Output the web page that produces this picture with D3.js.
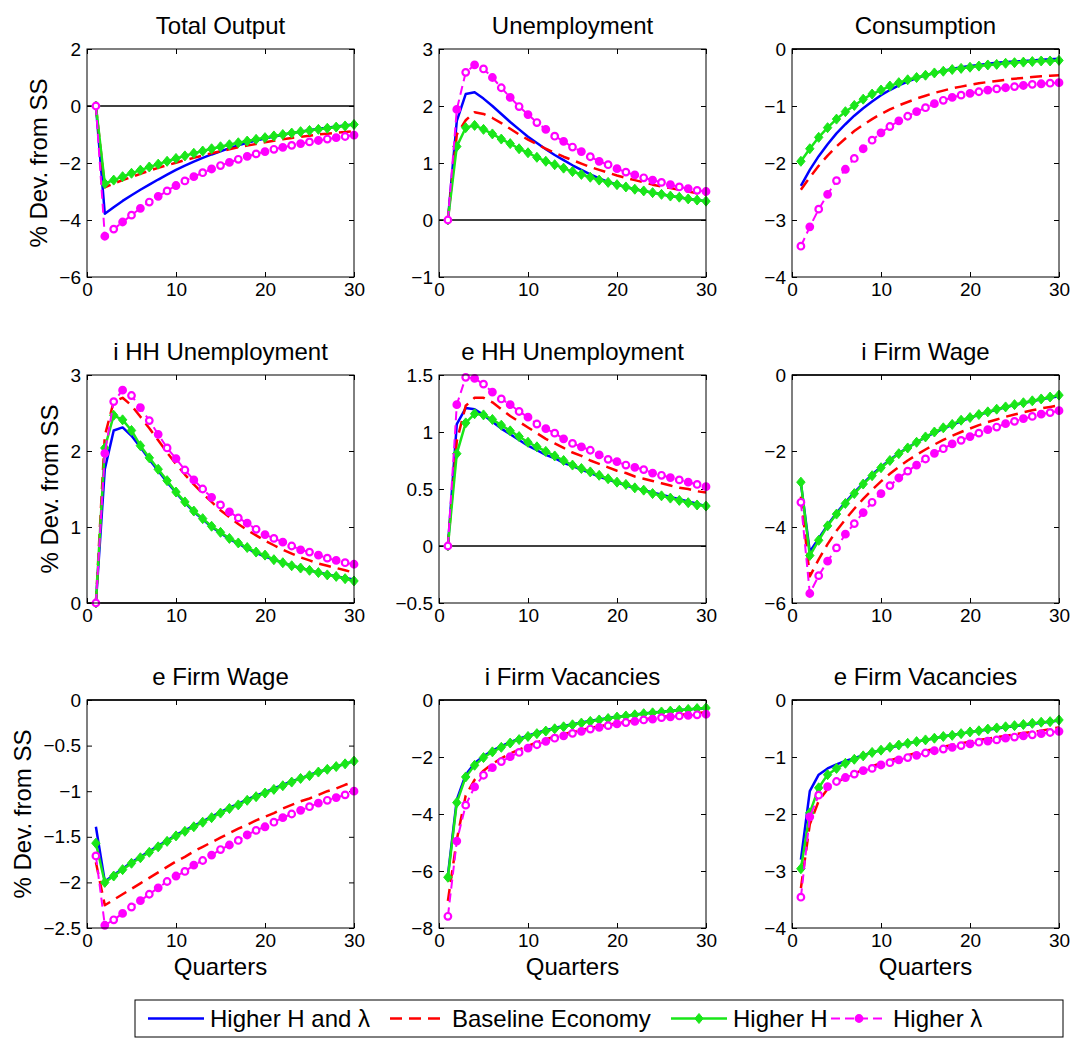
<!DOCTYPE html>
<html>
<head>
<meta charset="utf-8">
<style>
  body { margin: 0; background: #fff; }
  svg text { font-family: "Liberation Sans", Arial, Helvetica, sans-serif; fill: #000; }
</style>
</head>
<body>
<script src="https://d3js.org/d3.v7.min.js"></script>
<script>
var quarters = d3.range(1, 31);

var titles = ['Total Output', 'Unemployment', 'Consumption',
              'i HH Unemployment', 'e HH Unemployment', 'i Firm Wage',
              'e Firm Wage', 'i Firm Vacancies', 'e Firm Vacancies'];
var yDomains = [[-6, 2], [-1, 3], [-4, 0], [0, 3], [-0.5, 1.5], [-6, 0], [-2.5, 0], [-8, 0], [-4, 0]];
var yTicks = [[-6, -4, -2, 0, 2], [-1, 0, 1, 2, 3], [-4, -3, -2, -1, 0], [0, 1, 2, 3],
              [-0.5, 0, 0.5, 1, 1.5], [-6, -4, -2, 0], [-2.5, -2, -1.5, -1, -0.5, 0],
              [-8, -6, -4, -2, 0], [-4, -3, -2, -1, 0]];
var xTicks = [0, 10, 20, 30];
var seriesNames = ['Higher H and \u03bb', 'Baseline Economy', 'Higher H', 'Higher \u03bb'];

// Total Output
var outBoth = [0, -3.78, -3.55, -3.33, -3.13, -2.94, -2.76, -2.58, -2.41, -2.24, -2.09, -1.95, -1.82, -1.70, -1.59, -1.48, -1.38, -1.29, -1.21, -1.14, -1.07, -1.01, -0.95, -0.90, -0.85, -0.80, -0.76, -0.72, -0.68, -0.64];
var outBase = [0, -2.85, -2.72, -2.60, -2.49, -2.38, -2.27, -2.17, -2.08, -1.99, -1.90, -1.82, -1.74, -1.66, -1.59, -1.52, -1.45, -1.39, -1.33, -1.27, -1.22, -1.17, -1.12, -1.08, -1.04, -1.00, -0.97, -0.94, -0.91, -0.88];
var outH    = [0, -2.72, -2.60, -2.48, -2.36, -2.25, -2.14, -2.04, -1.94, -1.84, -1.75, -1.66, -1.58, -1.50, -1.43, -1.36, -1.29, -1.23, -1.17, -1.11, -1.05, -1.00, -0.95, -0.90, -0.86, -0.82, -0.78, -0.74, -0.70, -0.65];
var outLam  = [0, -4.57, -4.32, -4.07, -3.83, -3.59, -3.37, -3.17, -2.98, -2.79, -2.63, -2.48, -2.34, -2.21, -2.09, -1.98, -1.87, -1.77, -1.68, -1.60, -1.52, -1.45, -1.38, -1.32, -1.26, -1.21, -1.16, -1.11, -1.07, -1.02];
// Unemployment
var unBoth = [0, 1.74, 2.21, 2.24, 2.13, 2.00, 1.86, 1.72, 1.59, 1.46, 1.35, 1.24, 1.14, 1.05, 0.96, 0.88, 0.80, 0.73, 0.67, 0.62, 0.58, 0.54, 0.51, 0.48, 0.45, 0.42, 0.40, 0.37, 0.35, 0.33];
var unBase = [0, 1.50, 1.75, 1.89, 1.86, 1.79, 1.70, 1.60, 1.50, 1.41, 1.33, 1.25, 1.18, 1.11, 1.05, 0.99, 0.93, 0.88, 0.83, 0.78, 0.74, 0.70, 0.66, 0.62, 0.59, 0.56, 0.53, 0.50, 0.47, 0.44];
var unH    = [0, 1.29, 1.62, 1.66, 1.59, 1.51, 1.42, 1.34, 1.25, 1.18, 1.10, 1.03, 0.97, 0.91, 0.85, 0.80, 0.75, 0.70, 0.66, 0.62, 0.58, 0.54, 0.51, 0.48, 0.45, 0.42, 0.40, 0.37, 0.35, 0.33];
var unLam  = [0, 1.94, 2.59, 2.72, 2.65, 2.50, 2.32, 2.15, 1.99, 1.85, 1.71, 1.59, 1.47, 1.38, 1.28, 1.20, 1.11, 1.03, 0.97, 0.90, 0.84, 0.79, 0.74, 0.70, 0.66, 0.62, 0.58, 0.55, 0.52, 0.50];
// Consumption
var conBoth = [-2.40, -2.12, -1.88, -1.67, -1.48, -1.32, -1.17, -1.04, -0.92, -0.81, -0.72, -0.64, -0.57, -0.51, -0.46, -0.42, -0.38, -0.35, -0.32, -0.30, -0.28, -0.26, -0.24, -0.23, -0.22, -0.21, -0.20, -0.19, -0.18, -0.17];
var conBase = [-2.47, -2.25, -2.05, -1.87, -1.71, -1.57, -1.44, -1.33, -1.23, -1.14, -1.06, -0.99, -0.93, -0.87, -0.82, -0.77, -0.73, -0.69, -0.66, -0.63, -0.60, -0.58, -0.56, -0.54, -0.52, -0.51, -0.49, -0.48, -0.47, -0.46];
var conH    = [-1.97, -1.75, -1.55, -1.38, -1.23, -1.10, -0.99, -0.88, -0.79, -0.72, -0.65, -0.59, -0.54, -0.50, -0.46, -0.42, -0.39, -0.36, -0.34, -0.32, -0.30, -0.28, -0.27, -0.25, -0.24, -0.23, -0.22, -0.21, -0.21, -0.20];
var conLam  = [-3.46, -3.12, -2.81, -2.55, -2.31, -2.11, -1.92, -1.75, -1.60, -1.47, -1.36, -1.26, -1.18, -1.10, -1.03, -0.96, -0.90, -0.85, -0.81, -0.78, -0.75, -0.72, -0.70, -0.68, -0.66, -0.64, -0.62, -0.61, -0.60, -0.59];
// i HH Unemployment
var iuBoth = [0, 1.76, 2.27, 2.31, 2.20, 2.05, 1.89, 1.74, 1.59, 1.45, 1.32, 1.20, 1.10, 1.00, 0.92, 0.84, 0.78, 0.72, 0.66, 0.61, 0.57, 0.53, 0.49, 0.46, 0.43, 0.40, 0.38, 0.35, 0.33, 0.31];
var iuBase = [0, 2.20, 2.65, 2.70, 2.60, 2.45, 2.30, 2.14, 1.98, 1.83, 1.69, 1.56, 1.44, 1.33, 1.22, 1.13, 1.04, 0.96, 0.89, 0.82, 0.76, 0.70, 0.65, 0.60, 0.56, 0.52, 0.49, 0.46, 0.43, 0.40];
var iuH    = [0, 2.04, 2.47, 2.41, 2.27, 2.07, 1.91, 1.76, 1.61, 1.46, 1.33, 1.21, 1.11, 1.01, 0.93, 0.85, 0.79, 0.73, 0.67, 0.63, 0.57, 0.53, 0.49, 0.46, 0.43, 0.40, 0.37, 0.35, 0.32, 0.29];
var iuLam  = [0, 1.97, 2.65, 2.80, 2.73, 2.57, 2.40, 2.22, 2.04, 1.90, 1.75, 1.62, 1.50, 1.39, 1.29, 1.20, 1.12, 1.05, 0.97, 0.90, 0.85, 0.80, 0.75, 0.70, 0.67, 0.63, 0.59, 0.56, 0.53, 0.51];
// e HH Unemployment
var euBoth = [0, 1.07, 1.21, 1.20, 1.15, 1.09, 1.03, 0.98, 0.93, 0.88, 0.84, 0.80, 0.77, 0.73, 0.70, 0.67, 0.64, 0.61, 0.58, 0.56, 0.53, 0.51, 0.49, 0.47, 0.45, 0.43, 0.41, 0.39, 0.37, 0.35];
var euBase = [0, 0.92, 1.23, 1.30, 1.30, 1.26, 1.20, 1.14, 1.09, 1.04, 0.99, 0.94, 0.90, 0.86, 0.82, 0.79, 0.75, 0.72, 0.69, 0.66, 0.64, 0.61, 0.59, 0.57, 0.55, 0.53, 0.51, 0.50, 0.48, 0.47];
var euH    = [0, 0.81, 1.08, 1.16, 1.15, 1.11, 1.06, 1.01, 0.96, 0.91, 0.87, 0.83, 0.79, 0.75, 0.71, 0.68, 0.65, 0.62, 0.59, 0.56, 0.54, 0.51, 0.49, 0.46, 0.44, 0.42, 0.40, 0.38, 0.36, 0.35];
var euLam  = [0, 1.24, 1.48, 1.47, 1.42, 1.35, 1.29, 1.24, 1.18, 1.13, 1.07, 1.03, 0.99, 0.94, 0.90, 0.87, 0.84, 0.80, 0.76, 0.74, 0.71, 0.69, 0.67, 0.64, 0.62, 0.60, 0.58, 0.56, 0.54, 0.52];
// i Firm Wage
var iwBoth = [-2.85, -4.65, -4.30, -3.95, -3.63, -3.35, -3.09, -2.85, -2.62, -2.42, -2.23, -2.06, -1.91, -1.77, -1.64, -1.52, -1.41, -1.31, -1.22, -1.13, -1.05, -0.98, -0.91, -0.85, -0.79, -0.74, -0.69, -0.64, -0.60, -0.56];
var iwBase = [-3.20, -5.30, -4.85, -4.45, -4.10, -3.80, -3.52, -3.26, -3.02, -2.80, -2.60, -2.42, -2.25, -2.10, -1.96, -1.83, -1.71, -1.60, -1.50, -1.41, -1.32, -1.24, -1.17, -1.10, -1.04, -0.98, -0.93, -0.88, -0.84, -0.80];
var iwH    = [-2.82, -4.75, -4.35, -3.97, -3.66, -3.38, -3.12, -2.87, -2.65, -2.44, -2.25, -2.07, -1.92, -1.77, -1.63, -1.50, -1.39, -1.30, -1.19, -1.12, -1.04, -0.97, -0.90, -0.84, -0.78, -0.73, -0.68, -0.63, -0.58, -0.53];
var iwLam  = [-3.35, -5.75, -5.28, -4.90, -4.55, -4.19, -3.91, -3.62, -3.35, -3.12, -2.91, -2.71, -2.53, -2.37, -2.21, -2.06, -1.94, -1.81, -1.72, -1.62, -1.53, -1.44, -1.37, -1.28, -1.22, -1.15, -1.09, -1.03, -0.99, -0.94];
// e Firm Wage
var ewBoth = [-1.39, -1.99, -1.92, -1.85, -1.78, -1.72, -1.66, -1.60, -1.54, -1.48, -1.43, -1.38, -1.33, -1.28, -1.23, -1.18, -1.14, -1.09, -1.05, -1.01, -0.97, -0.93, -0.89, -0.86, -0.82, -0.79, -0.76, -0.73, -0.70, -0.67];
var ewBase = [-1.78, -2.25, -2.19, -2.13, -2.07, -2.01, -1.95, -1.89, -1.83, -1.77, -1.72, -1.66, -1.61, -1.56, -1.51, -1.46, -1.41, -1.37, -1.32, -1.28, -1.24, -1.19, -1.15, -1.11, -1.08, -1.04, -1.00, -0.97, -0.93, -0.90];
var ewH    = [-1.57, -2.00, -1.93, -1.86, -1.79, -1.73, -1.67, -1.61, -1.55, -1.49, -1.44, -1.39, -1.34, -1.29, -1.24, -1.19, -1.15, -1.10, -1.06, -1.02, -0.98, -0.94, -0.90, -0.86, -0.83, -0.79, -0.76, -0.73, -0.70, -0.67];
var ewLam  = [-1.71, -2.47, -2.41, -2.34, -2.27, -2.20, -2.13, -2.06, -1.99, -1.93, -1.88, -1.81, -1.76, -1.70, -1.64, -1.59, -1.54, -1.48, -1.43, -1.39, -1.34, -1.29, -1.25, -1.21, -1.17, -1.13, -1.10, -1.07, -1.04, -1.00];
// i Firm Vacancies
var ivBoth = [-6.15, -3.50, -2.62, -2.22, -1.97, -1.78, -1.62, -1.48, -1.36, -1.25, -1.15, -1.06, -0.98, -0.91, -0.85, -0.79, -0.73, -0.68, -0.63, -0.59, -0.55, -0.51, -0.47, -0.44, -0.41, -0.38, -0.35, -0.33, -0.31, -0.29];
var ivBase = [-7.05, -4.90, -3.35, -2.80, -2.48, -2.24, -2.05, -1.88, -1.74, -1.61, -1.49, -1.38, -1.29, -1.20, -1.12, -1.05, -0.98, -0.92, -0.87, -0.82, -0.77, -0.72, -0.68, -0.64, -0.60, -0.56, -0.53, -0.49, -0.46, -0.43];
var ivH    = [-6.22, -3.60, -2.70, -2.29, -2.02, -1.82, -1.66, -1.51, -1.39, -1.28, -1.18, -1.09, -1.01, -0.94, -0.87, -0.81, -0.75, -0.70, -0.65, -0.60, -0.56, -0.52, -0.48, -0.45, -0.42, -0.39, -0.36, -0.33, -0.30, -0.28];
var ivLam  = [-7.59, -4.95, -3.69, -3.05, -2.64, -2.37, -2.16, -1.99, -1.84, -1.69, -1.57, -1.45, -1.34, -1.26, -1.17, -1.10, -1.02, -0.96, -0.90, -0.84, -0.79, -0.75, -0.70, -0.67, -0.62, -0.59, -0.56, -0.54, -0.52, -0.50];
// e Firm Vacancies
var evBoth = [-2.80, -1.60, -1.31, -1.20, -1.13, -1.07, -1.02, -0.97, -0.92, -0.88, -0.84, -0.80, -0.76, -0.73, -0.70, -0.67, -0.64, -0.61, -0.59, -0.56, -0.54, -0.52, -0.50, -0.48, -0.46, -0.44, -0.42, -0.40, -0.38, -0.36];
var evBase = [-3.30, -2.18, -1.77, -1.56, -1.45, -1.36, -1.29, -1.22, -1.16, -1.11, -1.06, -1.01, -0.97, -0.93, -0.89, -0.86, -0.82, -0.79, -0.76, -0.73, -0.70, -0.68, -0.65, -0.63, -0.60, -0.58, -0.56, -0.54, -0.51, -0.48];
var evH    = [-2.96, -1.98, -1.54, -1.31, -1.20, -1.11, -1.04, -0.98, -0.92, -0.88, -0.83, -0.79, -0.76, -0.73, -0.70, -0.67, -0.64, -0.62, -0.59, -0.56, -0.54, -0.51, -0.49, -0.47, -0.45, -0.43, -0.41, -0.39, -0.38, -0.35];
var evLam  = [-3.46, -2.05, -1.67, -1.52, -1.43, -1.36, -1.30, -1.24, -1.20, -1.14, -1.10, -1.05, -1.01, -0.97, -0.93, -0.89, -0.86, -0.83, -0.80, -0.77, -0.74, -0.72, -0.70, -0.67, -0.65, -0.63, -0.61, -0.59, -0.57, -0.55];

var panels = [
    [outBoth, outBase, outH, outLam],
    [unBoth, unBase, unH, unLam],
    [conBoth, conBase, conH, conLam],
    [iuBoth, iuBase, iuH, iuLam],
    [euBoth, euBase, euH, euLam],
    [iwBoth, iwBase, iwH, iwLam],
    [ewBoth, ewBase, ewH, ewLam],
    [ivBoth, ivBase, ivH, ivLam],
    [evBoth, evBase, evH, evLam]
];

// line styles, in plotting order
var styles = [
    { color: '#0000ff', width: 2.5, dash: null, marker: null },
    { color: '#ff0000', width: 2.5, dash: '12,7', marker: null },
    { color: '#19e619', width: 2.5, dash: null, marker: 'diamond' },
    { color: '#ff00ff', width: 2, dash: '9,5', marker: 'circle' }
];

var W = 1072, H = 1040;
var colLeft = [87, 439, 792], rowTop = [49, 375, 700];
var pw = 267, ph = 228;
var diamond = 'M0,-5L4.2,0L0,5L-4.2,0Z';
var fmt = d3.format('~g');

var svg = d3.select('body').append('svg').attr('width', W).attr('height', H);
svg.append('rect').attr('width', W).attr('height', H).attr('fill', '#fff');

function drawMarker(sel, type, color, i) {
    if (type === 'diamond') {
        sel.append('path').attr('d', diamond).attr('fill', color).attr('stroke', color).attr('stroke-width', 1);
    } else if (type === 'circle') {
        sel.append('circle').attr('r', 3.3)
            .attr('fill', i % 2 ? color : '#fff')
            .attr('stroke', color).attr('stroke-width', 2.2);
    }
}

panels.forEach(function(series, i) {
    var col = i % 3, row = Math.floor(i / 3);
    var g = svg.append('g').attr('transform', 'translate(' + colLeft[col] + ',' + rowTop[row] + ')');

    var x = d3.scaleLinear().domain([0, 30]).range([0, pw]);
    var y = d3.scaleLinear().domain(yDomains[i]).range([ph, 0]);

    // axes with MATLAB-style inward ticks on every side
    var axB = g.append('g').attr('transform', 'translate(0,' + ph + ')')
        .call(d3.axisBottom(x).tickValues(xTicks).tickSizeInner(-5).tickSizeOuter(0).tickPadding(6).tickFormat(fmt));
    var axT = g.append('g')
        .call(d3.axisTop(x).tickValues(xTicks).tickSizeInner(-5).tickSizeOuter(0).tickFormat(''));
    var axL = g.append('g')
        .call(d3.axisLeft(y).tickValues(yTicks[i]).tickSizeInner(-5).tickSizeOuter(0).tickPadding(6).tickFormat(fmt));
    var axR = g.append('g').attr('transform', 'translate(' + pw + ',0)')
        .call(d3.axisRight(y).tickValues(yTicks[i]).tickSizeInner(-5).tickSizeOuter(0).tickFormat(''));
    [axB, axT, axL, axR].forEach(function(a) {
        a.select('.domain').remove();
        a.selectAll('line').attr('stroke', '#000').attr('stroke-width', 1);
        a.selectAll('text').attr('font-size', 19).attr('font-family', '"Liberation Sans", Arial, sans-serif').attr('fill', '#000');
    });

    // zero line
    var d0 = yDomains[i];
    if (d0[0] <= 0 && d0[1] >= 0) {
        g.append('line').attr('x1', x(0)).attr('x2', x(30)).attr('y1', y(0)).attr('y2', y(0))
            .attr('stroke', '#000').attr('stroke-width', 1.5);
    }

    var line = d3.line().x(function(d, j) { return x(quarters[j]); }).y(function(d) { return y(d); });

    series.forEach(function(vals, s) {
        var st = styles[s];
        g.append('path').datum(vals)
            .attr('d', line)
            .attr('fill', 'none')
            .attr('stroke', st.color)
            .attr('stroke-width', st.width)
            .attr('stroke-dasharray', st.dash)
            .attr('stroke-linejoin', 'round');
        if (st.marker) {
            g.append('g').selectAll('g').data(vals).enter().append('g')
                .attr('transform', function(d, j) { return 'translate(' + x(quarters[j]) + ',' + y(d) + ')'; })
                .each(function(d, j) { drawMarker(d3.select(this), st.marker, st.color, j); });
        }
    });

    // box
    g.append('rect').attr('width', pw).attr('height', ph)
        .attr('fill', 'none').attr('stroke', '#000').attr('stroke-width', 1);

    g.append('text').attr('x', pw / 2).attr('y', -15)
        .attr('text-anchor', 'middle').attr('font-size', 24)
        .text(titles[i]);

    if (col === 0) {
        // y label sits just left of the widest tick label, as MATLAB does
        var widest = 0;
        axL.selectAll('text').each(function() { widest = Math.max(widest, this.getComputedTextLength()); });
        g.append('text')
            .attr('transform', 'translate(' + (-(6 + widest + 12)) + ',' + (ph / 2) + ') rotate(-90)')
            .attr('text-anchor', 'middle').attr('font-size', 24)
            .text('% Dev. from SS');
    }
    if (row === 2) {
        g.append('text').attr('x', pw / 2).attr('y', ph + 47)
            .attr('text-anchor', 'middle').attr('font-size', 24)
            .text('Quarters');
    }
});

// legend
var leg = svg.append('g');
leg.append('rect').attr('x', 135).attr('y', 1000).attr('width', 928).attr('height', 37)
    .attr('fill', '#fff').attr('stroke', '#000').attr('stroke-width', 1);
var legX = [148, 390, 671, 831], legLen = 56, legY = 1018.5;
seriesNames.forEach(function(name, s) {
    var st = styles[s];
    var it = leg.append('g').attr('transform', 'translate(' + legX[s] + ',' + legY + ')');
    it.append('line').attr('x1', 0).attr('x2', legLen).attr('y1', 0).attr('y2', 0)
        .attr('stroke', st.color).attr('stroke-width', st.width).attr('stroke-dasharray', st.dash);
    if (st.marker) {
        var m = it.append('g').attr('transform', 'translate(' + (legLen / 2) + ',0)');
        drawMarker(m, st.marker, st.color, 1);
    }
    it.append('text').attr('x', legLen + 6).attr('y', 8.5).attr('font-size', 24).text(name);
});
</script>
</body>
</html>
